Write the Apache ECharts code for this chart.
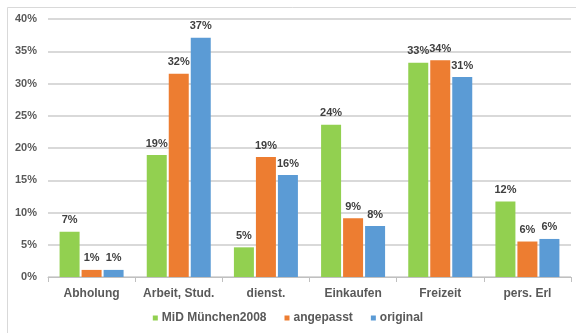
<!DOCTYPE html>
<html>
<head>
<meta charset="utf-8">
<script src="https://cdn.jsdelivr.net/npm/echarts@6/dist/echarts.min.js"></script>
<style>
  html, body { margin: 0; padding: 0; background: #fff; }
  #chart { width: 576px; height: 333px; }
</style>
</head>
<body>
<div id="chart"></div>
<script>
// Trip purposes (Wegezwecke) and shares in percent
const categories = ['Abholung', 'Arbeit, Stud.', 'dienst.', 'Einkaufen', 'Freizeit', 'pers. Erl'];
const mid2008 = [7.0, 18.9, 4.6, 23.6, 33.2, 11.7];
const angepasst = [1.1, 31.5, 18.6, 9.1, 33.6, 5.5];
const original = [1.1, 37.1, 15.8, 7.9, 31.0, 5.9];
const seriesNames = ['MiD München2008', 'angepasst', 'original'];
const yTicks = [0, 5, 10, 15, 20, 25, 30, 35, 40];

const FONT = '"Liberation Sans", Arial, sans-serif';
const colors = ['#92d050', '#ed7d31', '#5b9bd5'];

const chart = echarts.init(document.getElementById('chart'), null, { renderer: 'canvas' });

function makeSeries(name, data, color) {
  return {
    name: name,
    type: 'bar',
    data: data,
    barWidth: 20,
    barGap: '10%',
    itemStyle: { color: color },
    label: {
      show: true,
      position: 'top',
      distance: 6,
      formatter: p => Math.round(p.value) + '%',
      color: '#404040',
      fontFamily: FONT,
      fontWeight: 'bold',
      fontSize: 11
    }
  };
}

chart.setOption({
  animation: false,
  backgroundColor: '#fff',
  graphic: [{
    type: 'rect',
    shape: { x: 7.5, y: 7.5, width: 600, height: 400 },
    style: { fill: 'none', stroke: '#d9d9d9', lineWidth: 1 },
    silent: true
  }],
  grid: { left: 48, right: 5, top: 19, bottom: 56 },
  legend: {
    bottom: 4,
    left: 'center',
    itemWidth: 5,
    itemHeight: 5,
    itemGap: 18,
    icon: 'rect',
    textStyle: { color: '#595959', fontFamily: FONT, fontWeight: 'bold', fontSize: 12, padding: [0, 0, 0, -1] },
    data: seriesNames
  },
  xAxis: {
    type: 'category',
    data: categories,
    axisLine: { lineStyle: { color: '#c0c0c0', width: 1 } },
    axisTick: { show: true, length: 5, lineStyle: { color: '#c0c0c0' } },
    axisLabel: { interval: 0, color: '#595959', fontFamily: FONT, fontWeight: 'bold', fontSize: 12, margin: 11 }
  },
  yAxis: {
    type: 'value',
    min: yTicks[0],
    max: yTicks[yTicks.length - 1],
    interval: 5,
    axisLine: { show: false },
    axisTick: { show: false },
    splitLine: { lineStyle: { color: '#d9d9d9', width: 2 } },
    axisLabel: {
      color: '#595959', fontFamily: FONT, fontWeight: 'bold', fontSize: 11, margin: 11,
      formatter: v => v + '%'
    }
  },
  series: [
    makeSeries(seriesNames[0], mid2008, colors[0]),
    makeSeries(seriesNames[1], angepasst, colors[1]),
    makeSeries(seriesNames[2], original, colors[2])
  ]
});
</script>
</body>
</html>
